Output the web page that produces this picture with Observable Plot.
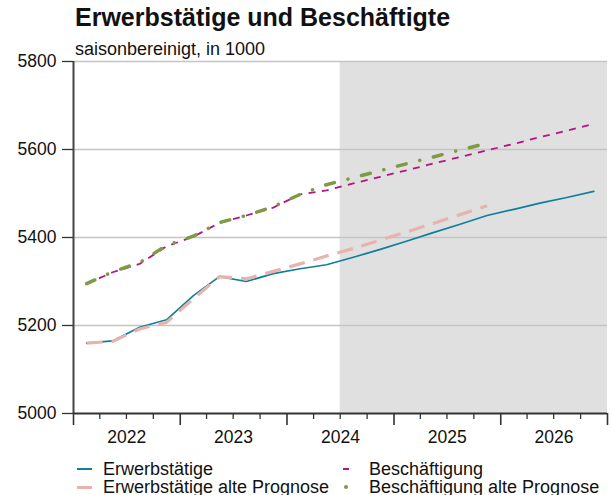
<!DOCTYPE html>
<html><head><meta charset="utf-8">
<script src="https://cdn.jsdelivr.net/npm/d3@7"></script>
<script src="https://cdn.jsdelivr.net/npm/@observablehq/plot@0.6"></script>
<style>
body{margin:0;background:#fff;font-family:"Liberation Sans",Arial,sans-serif;color:#111;}
#wrap{position:relative;width:611px;height:495px;overflow:hidden;}
.title{position:absolute;left:75px;top:5px;font-weight:bold;font-size:25px;line-height:25px;white-space:nowrap;}
.subtitle{position:absolute;left:75px;top:40px;font-size:18px;line-height:18px;white-space:nowrap;}
#chart{position:absolute;left:0;top:30px;}
.leg{position:absolute;font-size:18px;line-height:18px;white-space:nowrap;}
.sw{position:absolute;}
</style>
</head><body>
<div id="wrap">
  <div class="title">Erwerbstätige und Beschäftigte</div>
  <div class="subtitle">saisonbereinigt, in 1000</div>
  <div id="chart"></div>
  <div id="legend"></div>
</div>
<script>
const quarters = ["2022Q1","2022Q2","2022Q3","2022Q4","2023Q1","2023Q2","2023Q3","2023Q4",
  "2024Q1","2024Q2","2024Q3","2024Q4","2025Q1","2025Q2","2025Q3","2025Q4",
  "2026Q1","2026Q2","2026Q3","2026Q4"];
const erwerbstaetige = [5160,5165,5196,5213,5268,5311,5300,5318,5329,5338,5355,5373,5392,5411,5430,5450,5464,5478,5491,5505];
const erwerbstaetigeAlt = [5160,5164,5192,5207,5261,5311,5306,5323,5340,5358,5375,5394,5413,5432,5452,5472];
const beschaeftigung = [5295,5321,5340,5380,5402,5433,5450,5468,5498,5507,5523,5538,5553,5568,5583,5598,5613,5628,5643,5658];
const beschaeftigungAlt = [5295,5322,5343,5382,5403,5434,5450,5470,5498,5520,5536,5552,5568,5583,5599,5614];
const seriesNames = ["Erwerbstätige","Erwerbstätige alte Prognose","Beschäftigung","Beschäftigung alte Prognose"];
const yTicks = [5000,5200,5400,5600,5800];
const yGrid = [5200,5400,5600,5800];
const yearLabels = ["2022","2023","2024","2025","2026"];
const forecastStart = "2024Q3";

const qStart = q => new Date(Date.UTC(+q.slice(0,4), (+q.slice(5)-1)*3, 1));
const qMid = q => new Date(Date.UTC(+q.slice(0,4), (+q.slice(5)-1)*3 + 1, 15));
const rows = vals => vals.map((v,i) => ({date: qMid(quarters[i]), value: v}));

const xStart = new Date(Date.UTC(2022,0,1));
const xEnd = new Date(Date.UTC(2027,0,1));
const yearStarts = [...yearLabels.map(y => new Date(Date.UTC(+y,0,1))), xEnd];
const quarterTicks = quarters.map(qStart).filter(d => d.getUTCMonth() !== 0);
const shade = [{x1: qStart(forecastStart), x2: xEnd, y1: 5000, y2: 5800}];

const colors = ["#0f7f9c","#e8b2ad","#b5157f","#7f9a46"];

const plot = Plot.plot({
  width: 611, height: 420,
  marginLeft: 73, marginRight: 4, marginTop: 31, marginBottom: 37,
  style: {fontFamily: '"Liberation Sans", Arial, sans-serif', fontSize: "17.5px", background: "transparent", color: "#111"},
  x: {type: "utc", domain: [xStart, xEnd], axis: null},
  y: {domain: [5000, 5800], axis: null},
  marks: [
    Plot.rect(shade, {x1: "x1", x2: "x2", y1: "y1", y2: "y2", fill: "#e0e0e0"}),
    Plot.gridY(yGrid, {stroke: "#c4c4c4", strokeOpacity: 1, strokeWidth: 1.3}),
    Plot.line(rows(erwerbstaetige), {x: "date", y: "value", stroke: colors[0], strokeWidth: 1.7}),
    Plot.line(rows(erwerbstaetigeAlt), {x: "date", y: "value", stroke: colors[1], strokeWidth: 3.2, strokeDasharray: "16,9", strokeLinecap: "butt"}),
    Plot.line(rows(beschaeftigung), {x: "date", y: "value", stroke: colors[2], strokeWidth: 1.8, strokeDasharray: "7,6.4", strokeLinecap: "butt"}),
    Plot.line(rows(beschaeftigungAlt), {x: "date", y: "value", stroke: colors[3], strokeWidth: 3.5, strokeDasharray: "9,14,0.1,14", strokeLinecap: "round"}),
    Plot.ruleX([xStart], {y1: 5000, y2: 5800, stroke: "#444", strokeWidth: 2}),
    Plot.ruleY([5000], {stroke: "#333", strokeWidth: 2}),
    Plot.axisY(yTicks, {tickSize: 11, tickPadding: 6, fontSize: 17.5, tickFormat: d => String(d), stroke: "#333", fill: "#111", strokeWidth: 1.3}),
    Plot.axisX(quarterTicks, {tickSize: 6, tickFormat: () => "", stroke: "#333", strokeWidth: 1.3}),
    Plot.axisX(yearStarts, {tickSize: 12, tickFormat: () => "", stroke: "#333", strokeWidth: 1.6}),
    Plot.text(yearLabels, {x: y => new Date(Date.UTC(+y,6,2)), y: () => 5000, dy: 24, fontSize: 17.5, fill: "#111"})
  ]
});
document.getElementById("chart").appendChild(plot);

// legend
const legend = document.getElementById("legend");
const items = [
  {name: seriesNames[0], col: 0, row: 0, kind: "solid"},
  {name: seriesNames[1], col: 0, row: 1, kind: "thick"},
  {name: seriesNames[2], col: 1, row: 0, kind: "dash"},
  {name: seriesNames[3], col: 1, row: 1, kind: "dot"}
];
const colText = [103, 369], rowTop = [460, 478];
items.forEach((it) => {
  const colour = colors[seriesNames.indexOf(it.name)];
  const t = document.createElement("div");
  t.className = "leg";
  t.style.left = colText[it.col] + "px";
  t.style.top = rowTop[it.row] + "px";
  t.textContent = it.name;
  legend.appendChild(t);
  const s = document.createElement("div");
  s.className = "sw";
  const cy = rowTop[it.row] + 9;
  if (it.kind === "solid") { Object.assign(s.style, {left: "77px", width: "15px", height: "2px", top: (cy-1)+"px", background: colour}); }
  if (it.kind === "thick") { Object.assign(s.style, {left: "77px", width: "15px", height: "3px", top: (cy-1.5)+"px", background: colour}); }
  if (it.kind === "dash") { Object.assign(s.style, {left: "343px", width: "6px", height: "2px", top: (cy-1)+"px", background: colour}); }
  if (it.kind === "dot") { Object.assign(s.style, {left: "344px", width: "4px", height: "4px", top: (cy-2)+"px", background: colour, borderRadius: "50%"}); }
  legend.appendChild(s);
});
</script>
</body></html>
